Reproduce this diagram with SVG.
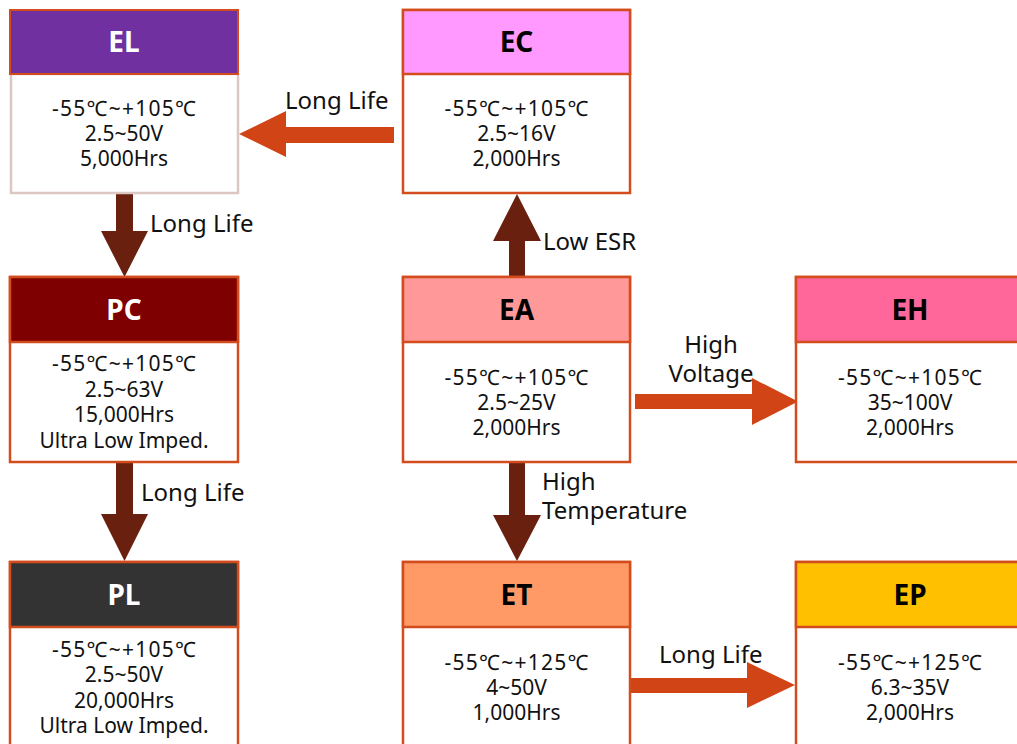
<svg xmlns="http://www.w3.org/2000/svg" width="1017" height="744" viewBox="0 0 1017 744">
<style>
text{font-family:"Noto Sans","Open Sans","Noto Sans CJK SC",sans-serif;}
.box{fill:#fff;stroke:#D34C1D;stroke-width:2.5;}
.hd{stroke:#D34C1D;stroke-width:2.5;}
.ht{font-size:28px;font-weight:bold;text-anchor:middle;}
.bt{font-size:21px;text-anchor:middle;fill:#111;}
.lb{font-size:24px;fill:#111;}
.oa{fill:#D04416;}
.da{fill:#69200F;}
</style>
<rect width="1017" height="744" fill="#fff"/>
<g id="connectors">
<g id="ec-el"><polygon class="oa" points="394,127 286,127 286,111 239,134 286,157 286,143 394,143"/><text class="lb" x="285" y="109">Long Life</text></g>
<g id="el-pc"><polygon class="da" points="116,194 133,194 133,231 148,231 124.5,277 101,231 116,231"/><text class="lb" x="150" y="232">Long Life</text></g>
<g id="pc-pl"><polygon class="da" points="116,463 133,463 133,514 148,514 124.5,561 101,514 116,514"/><text class="lb" x="141" y="501">Long Life</text></g>
<g id="ea-ec"><polygon class="da" points="509,277 525,277 525,241 541,241 517,194 493,241 509,241"/><text class="lb" x="543" y="250">Low ESR</text></g>
<g id="ea-et"><polygon class="da" points="509,463 525,463 525,515 541,515 517,561 493,515 509,515"/><text class="lb" x="542" y="490">High</text><text class="lb" x="542" y="519">Temperature</text></g>
<g id="ea-eh"><polygon class="oa" points="635,394 752,394 752,378 798,401.5 752,425 752,409 635,409"/><text class="lb" x="711" y="353" text-anchor="middle">High</text><text class="lb" x="711" y="382" text-anchor="middle">Voltage</text></g>
<g id="et-ep"><polygon class="oa" points="631,678 747,678 747,662 795,685 747,708 747,693 631,693"/><text class="lb" x="659" y="663">Long Life</text></g>
</g>
<g id="EL">
<rect x="11" y="74" width="227" height="119" fill="#fff" stroke="#DCC8C2" stroke-width="2.5"/>
<rect x="10" y="10" width="228" height="64" fill="#7030A0" stroke="#D34C1D" stroke-width="2"/>
<text class="ht" x="124" y="52" fill="#fff">EL</text>
<text class="bt" x="124" y="115.5" textLength="144">-55℃~+105℃</text><text class="bt" x="124" y="141">2.5~50V</text><text class="bt" x="124" y="166">5,000Hrs</text>
</g>
<g id="EC">
<rect class="box" x="403" y="10" width="227" height="183"/>
<rect class="hd" x="403" y="10" width="227" height="64" fill="#FF99FF"/>
<text class="ht" x="516.5" y="52" fill="#000">EC</text>
<text class="bt" x="516.5" y="115.5" textLength="144">-55℃~+105℃</text><text class="bt" x="516.5" y="141">2.5~16V</text><text class="bt" x="516.5" y="166">2,000Hrs</text>
</g>
<g id="PC">
<rect class="box" x="10" y="277" width="228" height="185"/>
<rect class="hd" x="10" y="277" width="228" height="65" fill="#7F0000"/>
<text class="ht" x="124" y="320" fill="#fff">PC</text>
<text class="bt" x="124" y="371" textLength="144">-55℃~+105℃</text><text class="bt" x="124" y="396.5">2.5~63V</text><text class="bt" x="124" y="422">15,000Hrs</text><text class="bt" x="124" y="447.5">Ultra Low Imped.</text>
</g>
<g id="EA">
<rect class="box" x="403" y="277" width="227" height="185"/>
<rect class="hd" x="403" y="277" width="227" height="65" fill="#FF9999"/>
<text class="ht" x="516.5" y="320" fill="#000">EA</text>
<text class="bt" x="516.5" y="384.5" textLength="144">-55℃~+105℃</text><text class="bt" x="516.5" y="410">2.5~25V</text><text class="bt" x="516.5" y="435">2,000Hrs</text>
</g>
<g id="EH">
<rect class="box" x="796" y="277" width="228" height="185"/>
<rect class="hd" x="796" y="277" width="228" height="65" fill="#FF6699"/>
<text class="ht" x="910" y="320" fill="#000">EH</text>
<text class="bt" x="910" y="384.5" textLength="144">-55℃~+105℃</text><text class="bt" x="910" y="410">35~100V</text><text class="bt" x="910" y="435">2,000Hrs</text>
</g>
<g id="PL">
<rect class="box" x="10" y="562" width="228" height="185"/>
<rect class="hd" x="10" y="562" width="228" height="65" fill="#333333"/>
<text class="ht" x="124" y="605" fill="#fff">PL</text>
<text class="bt" x="124" y="656.5" textLength="144">-55℃~+105℃</text><text class="bt" x="124" y="682">2.5~50V</text><text class="bt" x="124" y="707.5">20,000Hrs</text><text class="bt" x="124" y="733">Ultra Low Imped.</text>
</g>
<g id="ET">
<rect class="box" x="403" y="562" width="227" height="185"/>
<rect class="hd" x="403" y="562" width="227" height="65" fill="#FF9966"/>
<text class="ht" x="516.5" y="605" fill="#000">ET</text>
<text class="bt" x="516.5" y="669.5" textLength="144">-55℃~+125℃</text><text class="bt" x="516.5" y="695">4~50V</text><text class="bt" x="516.5" y="720">1,000Hrs</text>
</g>
<g id="EP">
<rect class="box" x="796" y="562" width="228" height="185"/>
<rect class="hd" x="796" y="562" width="228" height="65" fill="#FFC000"/>
<text class="ht" x="910" y="605" fill="#000">EP</text>
<text class="bt" x="910" y="669.5" textLength="144">-55℃~+125℃</text><text class="bt" x="910" y="695">6.3~35V</text><text class="bt" x="910" y="720">2,000Hrs</text>
</g>
</svg>
